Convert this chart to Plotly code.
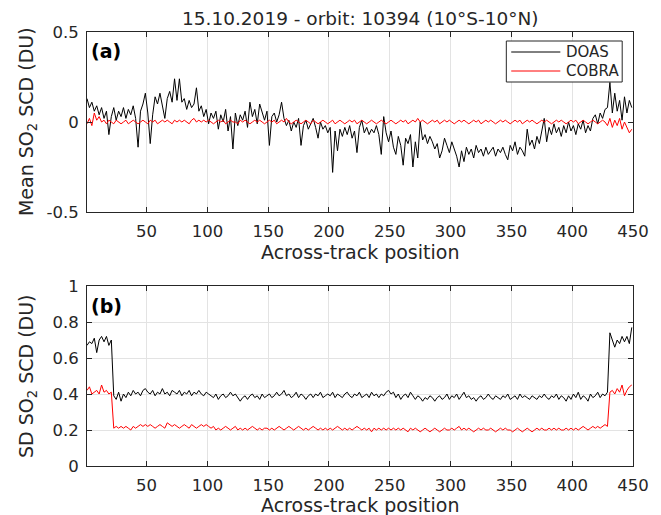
import plotly.graph_objects as go
from plotly.subplots import make_subplots

# Across-track positions are sampled every 2nd pixel: 1, 3, 5, ..., 449
doas_mean = [
    0.13, 0.08, 0.11, 0.06, 0.09, 0.04, 0.08, 0.02, 0.06, -0.07, 0.03, 0.08, 0.01, 0.06, 0.03, 0.08, 0.02, 0.07, 0.04, 0.09, 0.02, -0.14, 0.06, 0.10, 0.16,
    0.05, -0.12, 0.04, 0.14, 0.10, 0.16, 0.09, 0.02, 0.13, 0.17, 0.11, 0.24, 0.12, 0.24, 0.11, 0.13, 0.07, 0.12, 0.08, 0.10, 0.19, 0.06, 0.09, 0.03, 0.07,
    -0.01, 0.05, 0.02, 0.06, -0.04, 0.04, 0.00, 0.07, -0.05, 0.03, -0.15, 0.05, -0.02, 0.04, 0.01, 0.06, -0.03, 0.11, 0.03, 0.07, -0.01, 0.10, 0.05, 0.01, 0.06,
    -0.13, 0.03, 0.05, 0.00, 0.04, 0.11, 0.02, -0.02, 0.01, -0.05, 0.00, -0.03, 0.02, -0.13, -0.02, 0.01, -0.04, -0.01, 0.02, -0.03, -0.09, 0.00, -0.04, -0.02, -0.06,
    -0.03, -0.28, -0.05, -0.16, -0.04, -0.08, -0.03, -0.07, -0.02, -0.09, -0.05, -0.17, -0.03, 0.01, -0.06, -0.03, -0.07, -0.04, -0.06, -0.02, -0.07, -0.18, 0.03, -0.06, -0.11,
    -0.05, -0.14, -0.18, -0.08, -0.13, -0.24, -0.09, -0.12, -0.07, -0.25, -0.11, -0.20, 0.00, -0.10, -0.07, -0.12, -0.08, -0.11, -0.15, -0.12, -0.20, -0.16, -0.09, -0.13, -0.17,
    -0.11, -0.15, -0.19, -0.25, -0.16, -0.22, -0.14, -0.18, -0.15, -0.20, -0.13, -0.17, -0.15, -0.19, -0.14, -0.18, -0.16, -0.14, -0.19, -0.15, -0.17, -0.14, -0.18, -0.21, -0.13,
    -0.16, -0.11, -0.18, -0.14, -0.16, -0.19, -0.04, -0.13, -0.10, -0.15, -0.08, -0.12, -0.05, 0.02, -0.11, -0.03, -0.07, -0.01, -0.06, -0.03, -0.08, -0.02, -0.06, 0.00, -0.05,
    -0.02, -0.07, -0.01, -0.04, 0.01, -0.06, -0.02, -0.05, 0.02, 0.04, -0.01, 0.05, 0.02, 0.07, 0.08, 0.22, 0.05, 0.16, 0.06, 0.12, 0.01, 0.14, 0.05, 0.12, 0.08,
]

cobra_mean = [
    -0.01, 0.02, -0.02, 0.05, 0.01, 0.03, 0.00, 0.01, -0.01, 0.01, 0.00, -0.01, 0.01, 0.00, -0.01, 0.00, 0.01, -0.01, 0.00, 0.01, 0.00, -0.01, 0.00, 0.01, 0.00,
    -0.01, 0.01, 0.00, 0.01, -0.01, 0.00, 0.01, 0.00, 0.01, 0.00, -0.01, 0.01, 0.00, 0.01, 0.00, 0.01, 0.00, -0.01, 0.01, 0.02, 0.00, 0.01, 0.00, 0.01, 0.00,
    0.01, 0.00, -0.01, 0.00, 0.01, 0.00, 0.01, -0.01, 0.00, 0.01, 0.00, 0.00, -0.01, 0.01, 0.00, 0.01, 0.00, -0.01, 0.00, 0.01, 0.00, 0.01, 0.00, -0.01, 0.00,
    0.01, 0.00, 0.01, -0.01, 0.00, 0.01, 0.00, 0.02, 0.00, -0.01, 0.00, 0.01, 0.00, -0.01, 0.00, 0.01, 0.00, -0.01, 0.01, 0.00, -0.01, 0.00, 0.01, 0.00, -0.01,
    0.00, 0.01, -0.01, 0.00, 0.01, 0.00, -0.01, 0.00, 0.01, 0.00, 0.01, -0.01, 0.00, 0.01, 0.00, -0.01, 0.00, 0.01, 0.00, -0.01, 0.00, 0.01, 0.00, -0.01, 0.00,
    0.01, 0.00, -0.01, 0.00, 0.01, 0.00, 0.01, -0.01, 0.00, 0.01, 0.00, 0.02, 0.00, 0.01, 0.00, -0.01, 0.00, 0.01, 0.00, 0.01, -0.01, 0.00, 0.01, 0.00, 0.01,
    0.00, -0.01, 0.00, 0.01, 0.00, 0.01, 0.00, -0.01, 0.00, 0.01, 0.00, 0.01, -0.01, 0.00, 0.01, 0.00, 0.01, 0.00, -0.01, 0.00, 0.01, 0.00, 0.01, 0.00, -0.01,
    0.00, 0.01, 0.00, 0.01, -0.01, 0.00, 0.01, 0.00, 0.01, 0.00, -0.01, 0.00, 0.01, 0.00, 0.01, 0.00, -0.01, 0.00, 0.01, 0.00, 0.01, 0.00, -0.01, 0.00, 0.01,
    0.00, 0.01, -0.01, 0.00, 0.01, 0.00, -0.01, 0.00, 0.01, 0.00, -0.01, 0.00, 0.01, 0.00, -0.02, 0.02, -0.03, 0.01, -0.02, 0.02, -0.04, 0.00, -0.03, -0.06, -0.04,
]

doas_sd = [
    0.67, 0.69, 0.68, 0.71, 0.63, 0.70, 0.72, 0.69, 0.72, 0.67, 0.70, 0.39, 0.37, 0.41, 0.36, 0.40, 0.38, 0.41, 0.39, 0.42, 0.40, 0.41, 0.39, 0.42, 0.43,
    0.41, 0.40, 0.42, 0.39, 0.41, 0.40, 0.43, 0.40, 0.41, 0.39, 0.42, 0.41, 0.40, 0.42, 0.39, 0.41, 0.40, 0.42, 0.39, 0.41, 0.40, 0.42, 0.40, 0.39, 0.41,
    0.40, 0.39, 0.38, 0.40, 0.37, 0.39, 0.40, 0.38, 0.39, 0.41, 0.39, 0.40, 0.38, 0.36, 0.38, 0.39, 0.37, 0.39, 0.40, 0.38, 0.39, 0.37, 0.40, 0.38, 0.39,
    0.40, 0.38, 0.39, 0.41, 0.39, 0.40, 0.42, 0.39, 0.40, 0.38, 0.39, 0.41, 0.38, 0.40, 0.39, 0.37, 0.39, 0.40, 0.38, 0.40, 0.39, 0.41, 0.38, 0.39, 0.40,
    0.39, 0.41, 0.38, 0.40, 0.39, 0.38, 0.40, 0.41, 0.39, 0.38, 0.40, 0.39, 0.41, 0.38, 0.39, 0.40, 0.38, 0.41, 0.39, 0.40, 0.38, 0.40, 0.39, 0.41, 0.42,
    0.40, 0.41, 0.38, 0.40, 0.37, 0.39, 0.40, 0.38, 0.41, 0.39, 0.37, 0.39, 0.38, 0.36, 0.38, 0.37, 0.39, 0.38, 0.36, 0.38, 0.39, 0.37, 0.38, 0.40, 0.37,
    0.39, 0.38, 0.40, 0.37, 0.39, 0.41, 0.38, 0.39, 0.37, 0.38, 0.36, 0.38, 0.39, 0.37, 0.38, 0.40, 0.38, 0.37, 0.39, 0.38, 0.37, 0.39, 0.38, 0.40, 0.37,
    0.38, 0.39, 0.37, 0.40, 0.38, 0.39, 0.38, 0.37, 0.39, 0.38, 0.37, 0.39, 0.38, 0.40, 0.38, 0.37, 0.39, 0.38, 0.40, 0.37, 0.39, 0.38, 0.36, 0.39, 0.37,
    0.40, 0.38, 0.41, 0.37, 0.39, 0.38, 0.36, 0.40, 0.38, 0.39, 0.41, 0.38, 0.40, 0.39, 0.41, 0.74, 0.70, 0.66, 0.70, 0.68, 0.72, 0.69, 0.72, 0.68, 0.77,
]

cobra_sd = [
    0.42, 0.44, 0.40, 0.41, 0.42, 0.40, 0.45, 0.41, 0.42, 0.40, 0.41, 0.21, 0.22, 0.21, 0.22, 0.21, 0.22, 0.21, 0.20, 0.22, 0.21, 0.22, 0.23, 0.22, 0.23,
    0.22, 0.23, 0.22, 0.21, 0.22, 0.23, 0.22, 0.21, 0.24, 0.23, 0.22, 0.23, 0.22, 0.21, 0.22, 0.23, 0.22, 0.21, 0.23, 0.22, 0.21, 0.22, 0.23, 0.22, 0.23,
    0.22, 0.21, 0.22, 0.20, 0.21, 0.20, 0.21, 0.22, 0.21, 0.20, 0.21, 0.22, 0.20, 0.21, 0.20, 0.21, 0.20, 0.21, 0.22, 0.21, 0.20, 0.21, 0.20, 0.21, 0.21,
    0.20, 0.21, 0.20, 0.21, 0.22, 0.21, 0.20, 0.21, 0.22, 0.21, 0.20, 0.21, 0.22, 0.21, 0.20, 0.21, 0.20, 0.21, 0.22, 0.21, 0.20, 0.21, 0.20, 0.21, 0.20,
    0.21, 0.20, 0.21, 0.22, 0.21, 0.20, 0.21, 0.20, 0.21, 0.20, 0.21, 0.22, 0.21, 0.20, 0.21, 0.20, 0.21, 0.19, 0.21, 0.20, 0.21, 0.20, 0.21, 0.20, 0.21,
    0.20, 0.21, 0.20, 0.21, 0.20, 0.21, 0.20, 0.19, 0.21, 0.20, 0.21, 0.20, 0.19, 0.20, 0.21, 0.20, 0.19, 0.20, 0.21, 0.20, 0.19, 0.20, 0.21, 0.20, 0.20,
    0.21, 0.20, 0.21, 0.22, 0.20, 0.21, 0.20, 0.21, 0.20, 0.19, 0.20, 0.21, 0.20, 0.21, 0.20, 0.20, 0.21, 0.20, 0.19, 0.20, 0.21, 0.20, 0.21, 0.20, 0.20,
    0.19, 0.20, 0.21, 0.20, 0.19, 0.20, 0.21, 0.20, 0.19, 0.20, 0.21, 0.20, 0.21, 0.20, 0.20, 0.21, 0.20, 0.21, 0.20, 0.21, 0.20, 0.20, 0.21, 0.20, 0.21,
    0.20, 0.21, 0.20, 0.21, 0.22, 0.21, 0.20, 0.21, 0.22, 0.21, 0.22, 0.21, 0.22, 0.23, 0.22, 0.41, 0.42, 0.40, 0.43, 0.41, 0.45, 0.39, 0.42, 0.44, 0.45,
]

positions = [1 + 2 * i for i in range(len(doas_mean))]

x_ticks = [50, 100, 150, 200, 250, 300, 350, 400, 450]
y_ticks_top = [-0.5, 0, 0.5]
y_ticklabels_top = ["-0.5", "0", "0.5"]
y_ticks_bot = [0, 0.2, 0.4, 0.6, 0.8, 1]
y_ticklabels_bot = ["0", "0.2", "0.4", "0.6", "0.8", "1"]

title_text = "15.10.2019 - orbit: 10394 (10°S-10°N)"
series_names = ["DOAS", "COBRA"]
series_colors = ["#000000", "#ff0000"]

FONT = "DejaVu Sans"
TXT = "#262626"
AX = "#262626"
GRID = "#e3e3e3"

# the page body adds an 8 px offset; work in window pixels and shift
OFF = 8
W, H = 661 - OFF, 515 - OFF
PL, PR, PT, PB = 87, 643, 32, 466          # plot box in window pixels
L, R, T, B = PL - OFF, W - (PR - OFF), PT - OFF, H - (PB - OFF)
plot_w = W - L - R
plot_h = H - T - B
top_y0 = (PB - 212) / plot_h
bot_y1 = (PB - 286) / plot_h

fig = make_subplots(rows=2, cols=1)

fig.add_trace(go.Scatter(x=positions, y=doas_mean, mode="lines", name=series_names[0], showlegend=False,
                         line=dict(color=series_colors[0], width=1)), row=1, col=1)
fig.add_trace(go.Scatter(x=positions, y=cobra_mean, mode="lines", name=series_names[1], showlegend=False,
                         line=dict(color=series_colors[1], width=1)), row=1, col=1)
fig.add_trace(go.Scatter(x=positions, y=doas_sd, mode="lines", name=series_names[0], showlegend=False,
                         line=dict(color=series_colors[0], width=1)), row=2, col=1)
fig.add_trace(go.Scatter(x=positions, y=cobra_sd, mode="lines", name=series_names[1], showlegend=False,
                         line=dict(color=series_colors[1], width=1)), row=2, col=1)

xcommon = dict(range=[1, 450], tickvals=x_ticks, ticks="inside", ticklen=5, tickcolor=AX,
               showline=True, linecolor=AX, linewidth=1, mirror="ticks",
               showgrid=True, gridcolor=GRID, gridwidth=1, zeroline=False,
               tickfont=dict(family=FONT, size=16.5, color=TXT), ticklabelstandoff=4)

fig.update_layout(
    xaxis=dict(**xcommon, domain=[0, 1]),
    xaxis2=dict(**xcommon, domain=[0, 1]),
    yaxis=dict(domain=[top_y0, 1], range=[-0.5, 0.5], tickvals=y_ticks_top, ticktext=y_ticklabels_top,
               ticks="inside", ticklen=5, tickcolor=AX, showline=True, linecolor=AX, linewidth=1,
               mirror="ticks", showgrid=False, zeroline=False,
               tickfont=dict(family=FONT, size=16.5, color=TXT), ticklabelstandoff=4),
    yaxis2=dict(domain=[0, bot_y1], range=[0, 1], tickvals=y_ticks_bot, ticktext=y_ticklabels_bot,
                ticks="inside", ticklen=5, tickcolor=AX, showline=True, linecolor=AX, linewidth=1,
                mirror="ticks", showgrid=True, gridcolor=GRID, zeroline=False,
                tickfont=dict(family=FONT, size=16.5, color=TXT), ticklabelstandoff=4),
)


def px_x(px):
    return (px - PL) / plot_w


def px_y(py):
    return (PB - py) / plot_h


annots = [
    dict(text=title_text, x=px_x(365), y=px_y(19), font=dict(size=18.5, family=FONT, color=TXT)),
    dict(text="Across-track position", x=px_x(365), y=px_y(252), font=dict(size=19, family=FONT, color=TXT)),
    dict(text="Across-track position", x=px_x(365), y=px_y(505), font=dict(size=19, family=FONT, color=TXT)),
    dict(text="Mean SO<sub>2</sub> SCD (DU)", x=px_x(26), y=px_y(122), textangle=-90,
         font=dict(size=19, family=FONT, color=TXT)),
    dict(text="SD SO<sub>2</sub> SCD (DU)", x=px_x(26), y=px_y(376), textangle=-90,
         font=dict(size=19, family=FONT, color=TXT)),
    dict(text="<b>(a)</b>", x=px_x(89), y=px_y(51), xanchor="left",
         font=dict(size=19, family=FONT, color="#000000")),
    dict(text="<b>(b)</b>", x=px_x(89), y=px_y(306), xanchor="left",
         font=dict(size=19, family=FONT, color="#000000")),
    # legend entries
    dict(text=series_names[0], x=px_x(573), y=px_y(52), xanchor="left",
         font=dict(size=15, family=FONT, color=TXT)),
    dict(text=series_names[1], x=px_x(573), y=px_y(71), xanchor="left",
         font=dict(size=15, family=FONT, color=TXT)),
]
for a in annots:
    a.setdefault("xanchor", "center")
    a.update(xref="paper", yref="paper", yanchor="middle", showarrow=False)

shapes = [
    dict(type="rect", xref="paper", yref="paper", x0=px_x(514), x1=px_x(632), y0=px_y(82), y1=px_y(41),
         line=dict(color=AX, width=1), fillcolor="white", layer="above"),
    dict(type="line", xref="paper", yref="paper", x0=px_x(519), x1=px_x(569), y0=px_y(52), y1=px_y(52),
         line=dict(color=series_colors[0], width=1), layer="above"),
    dict(type="line", xref="paper", yref="paper", x0=px_x(519), x1=px_x(569), y0=px_y(71), y1=px_y(71),
         line=dict(color=series_colors[1], width=1), layer="above"),
]

fig.update_layout(
    width=W, height=H,
    margin=dict(l=L, r=R, t=T, b=B),
    paper_bgcolor="white", plot_bgcolor="white",
    font=dict(family=FONT, color=TXT),
    annotations=annots,
    shapes=shapes,
    showlegend=False,
)

fig.write_html("out.html")
